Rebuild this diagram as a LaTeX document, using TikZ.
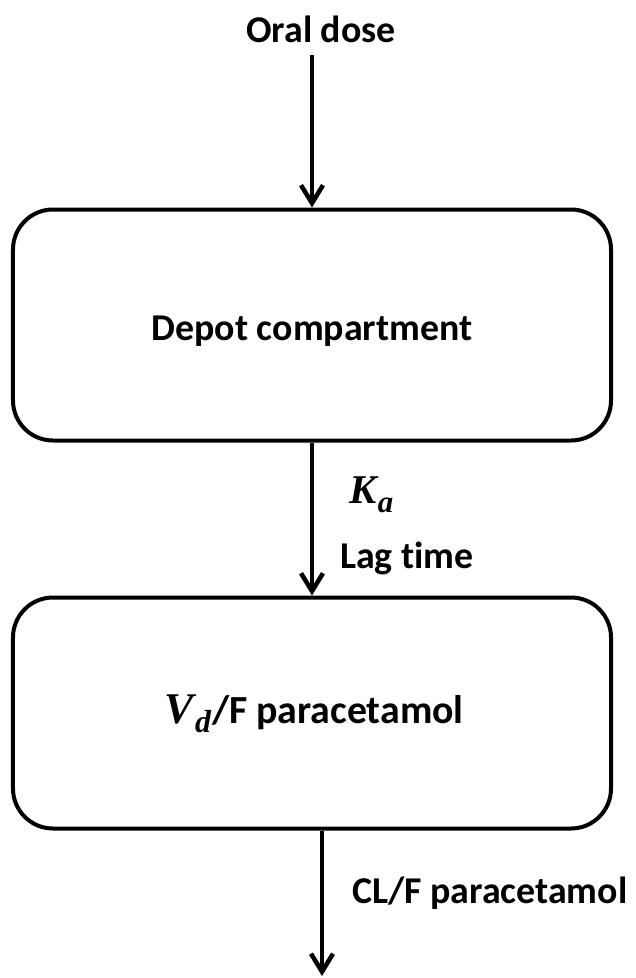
\documentclass[tikz,border=0pt]{standalone}
\usepackage{fontspec}
\setmainfont{Carlito}[Ligatures={NoCommon,NoContextual}]
\newfontfamily\symfont{Liberation Serif}
\usetikzlibrary{arrows.meta}
\tikzset{
  lbl/.style={font=\fontsize{38}{44}\selectfont\bfseries, inner sep=0pt, anchor=base},
  compbox/.style={draw, line width=4bp, rounded corners=40bp, minimum width=598bp,
    minimum height=231bp, inner sep=0pt, text depth=0bp},
  flow/.style={line width=4.5bp, -{Straight Barb[length=18bp,width=22bp,line width=4.5bp]}},
}
% bold italic symbol with a lowered subscript letter
\newcommand{\symvar}[4]{{\symfont\bfseries\itshape\fontsize{#3}{#3}\selectfont #1\kern1.5bp\raisebox{-9bp}{\fontsize{#4}{#4}\selectfont #2}}}
\begin{document}
\begin{tikzpicture}[x=1bp,y=-1bp]
  \useasboundingbox (0,0) rectangle (636,978);
  \node[lbl] (oral) at (321,42) {Oral dose};
  \node[compbox, text height=30bp, font=\fontsize{38}{44}\selectfont\bfseries]
    (depot) at (312,325) {Depot compartment};
  \node[compbox, text height=20bp, font=\fontsize{40}{46}\selectfont\bfseries]
    (central) at (312,713) {\hspace*{4bp}\symvar{V}{d}{44}{32}\kern1bp/F paracetamol};
  \node[lbl, anchor=base west] (ka) at (349,503) {\symvar{K}{a}{41}{31}};
  \node[lbl, anchor=base west] (lag) at (340,568) {Lag t{}ime};
  \node[lbl, anchor=base west] (cl) at (352,903) {CL/F paracetamol};
  \coordinate (sink) at (322,976);
  \draw[flow] (oral.south -| depot.north) ++(0,13) -- (depot.north);
  \draw[flow] (depot.south) -- (central.north);
  \draw[flow] (central.south -| sink) -- (sink);
\end{tikzpicture}
\end{document}
